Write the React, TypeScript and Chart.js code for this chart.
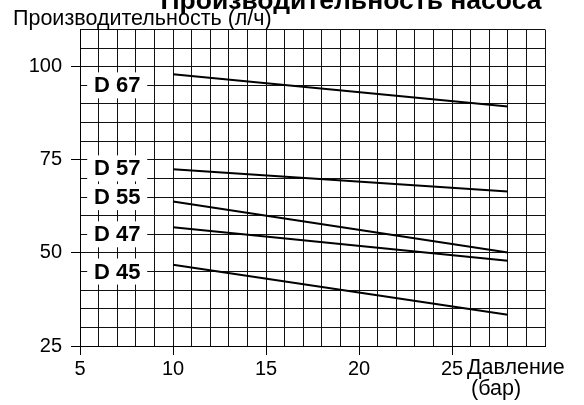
import React, { useEffect, useRef } from "react";
import { Chart, registerables } from "chart.js";

Chart.register(...registerables);

const pressure = [10, 28];
const d67 = [98, 89.3];
const d57 = [72.5, 66.5];
const d55 = [63.8, 50.1];
const d47 = [56.9, 47.9];
const d45 = [46.8, 33.4];

const seriesNames = ["D 67", "D 57", "D 55", "D 47", "D 45"];
const seriesValues = [d67, d57, d55, d47, d45];
const labelX = 7;
const labelY = [95, 72.7, 65, 55, 45];

const yLabelTicks = [25, 50, 75, 100];
const xLabelTicks = [5, 10, 15, 20, 25];

const FONT = "'Liberation Sans', Arial, sans-serif";

export default function App() {
  const ref = useRef<HTMLCanvasElement | null>(null);

  useEffect(() => {
    const canvas = ref.current;
    if (!canvas) return;

    const textPlugin = {
      id: "textPlugin",
      afterDatasetsDraw(chart: any) {
        const ctx = chart.ctx;
        const xs = chart.scales.x;
        const ys = chart.scales.y;
        ctx.save();
        ctx.font = `bold 22px ${FONT}`;
        ctx.textAlign = "center";
        ctx.textBaseline = "middle";
        seriesNames.forEach((name, i) => {
          const px = xs.getPixelForValue(labelX);
          const py = ys.getPixelForValue(labelY[i]);
          ctx.fillStyle = "#fff";
          ctx.fillRect(px - 30, py - 13, 60, 26);
          ctx.fillStyle = "#000";
          ctx.fillText(name, px, py + 1);
        });
        ctx.restore();
      },
      afterDraw(chart: any) {
        const ctx = chart.ctx;
        const xs = chart.scales.x;
        ctx.save();
        ctx.fillStyle = "#000";
        ctx.textBaseline = "alphabetic";
        ctx.font = `bold 26.5px ${FONT}`;
        ctx.textAlign = "center";
        ctx.fillText("Производительность насоса", 351, 8.5);
        ctx.font = `21.5px ${FONT}`;
        ctx.textAlign = "left";
        ctx.fillText("Производительность (л/ч)", 13, 25);
        const p25 = xs.getPixelForValue(25);
        ctx.font = `21.5px ${FONT}`;
        ctx.fillText("Давление", p25 + 15, 374);
        ctx.fillText("(бар)", p25 + 19, 395);
        ctx.restore();
      },
    };

    const mk = (label: string, vals: number[]) => ({
      label,
      data: pressure.map((p, i) => ({ x: p, y: vals[i] })),
      borderColor: "#000",
      borderWidth: 2,
      pointRadius: 0,
      fill: false,
      tension: 0,
    });

    const chart = new Chart(canvas, {
      type: "line",
      data: {
        datasets: seriesNames.map((n, i) => mk(n, seriesValues[i])),
      },
      options: {
        responsive: false,
        animation: false,
        devicePixelRatio: 1,
        layout: { padding: { left: 0, right: 39, top: 29.5, bottom: 0 } },
        plugins: {
          legend: { display: false },
          tooltip: { enabled: false },
          title: { display: false },
        },
        scales: {
          x: {
            type: "linear",
            min: 5,
            max: 30,
            afterFit: (s: any) => {
              s.height = 59;
            },
            border: { display: true, color: "#000", width: 1 },
            grid: {
              color: "#111",
              lineWidth: 1,
              tickLength: 9,
              tickColor: (c: any) =>
                c.tick && xLabelTicks.includes(c.tick.value) ? "#000" : "rgba(0,0,0,0)",
            },
            ticks: {
              stepSize: 1,
              autoSkip: false,
              maxRotation: 0,
              padding: 2,
              color: "#000",
              font: { family: FONT, size: 20 },
              callback: (v: any) => (xLabelTicks.includes(Number(v)) ? String(v) : ""),
            },
          },
          y: {
            type: "linear",
            min: 25,
            max: 110,
            afterFit: (s: any) => {
              s.width = 80;
            },
            border: { display: true, color: "#000", width: 1 },
            grid: {
              color: "#111",
              lineWidth: 1,
              tickLength: 9,
              tickColor: (c: any) =>
                c.tick && yLabelTicks.includes(c.tick.value) ? "#000" : "rgba(0,0,0,0)",
            },
            ticks: {
              stepSize: 5,
              autoSkip: false,
              padding: 9,
              color: "#000",
              font: { family: FONT, size: 20 },
              callback: (v: any) => (yLabelTicks.includes(Number(v)) ? String(v) : ""),
            },
          },
        },
      },
      plugins: [textPlugin],
    } as any);

    return () => chart.destroy();
  }, []);

  return (
    <div style={{ position: "fixed", left: 0, top: 0, width: 584, height: 405, background: "#fff" }}>
      <canvas ref={ref} width={584} height={405} style={{ width: 584, height: 405, display: "block" }} />
    </div>
  );
}
